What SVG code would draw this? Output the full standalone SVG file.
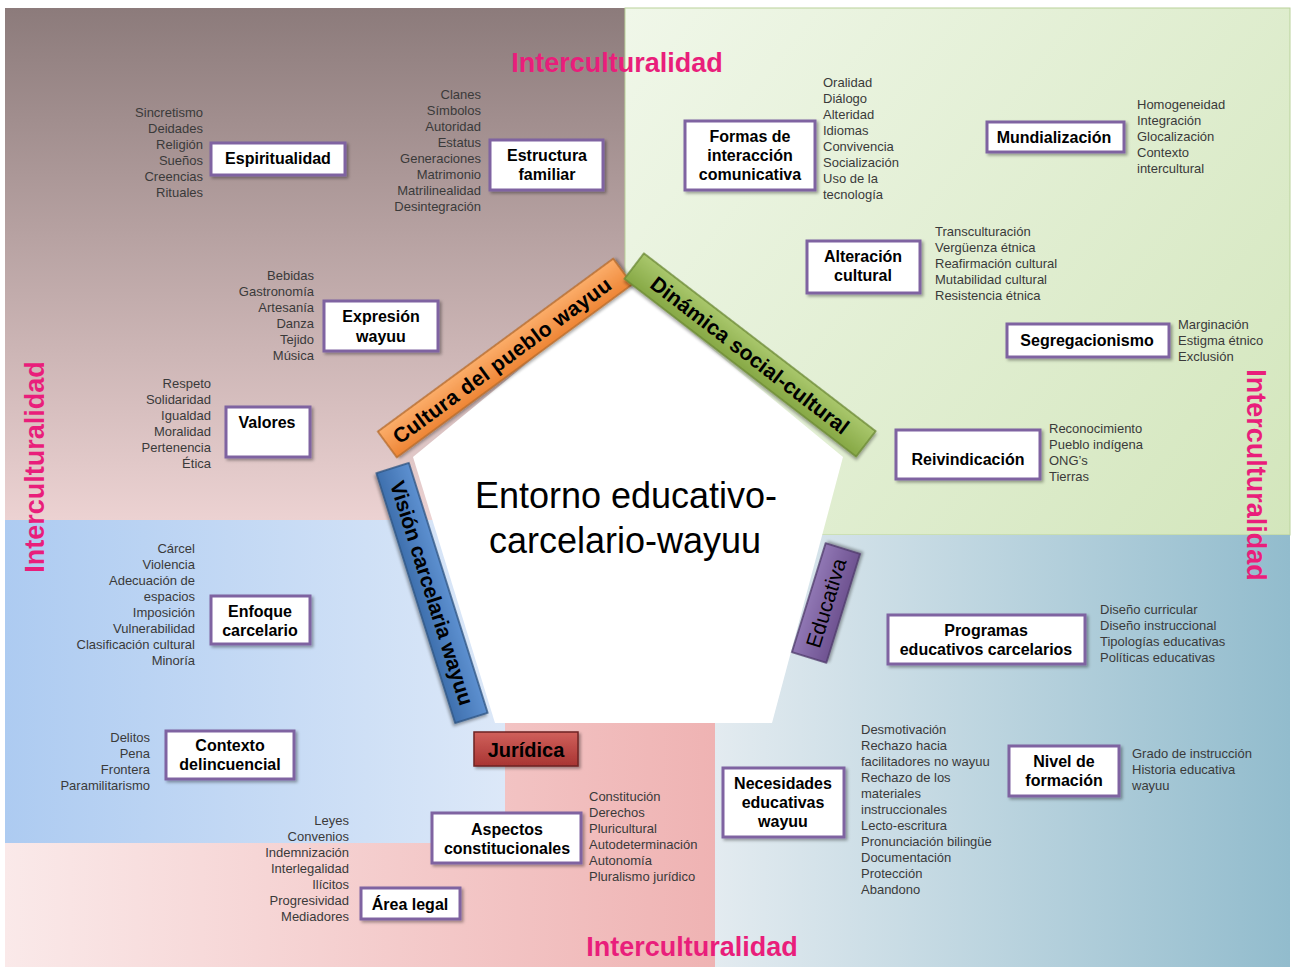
<svg xmlns="http://www.w3.org/2000/svg" width="1291" height="967" viewBox="0 0 1291 967">
<style>
.item{font-family:"Liberation Sans",Arial,sans-serif;font-size:13px;fill:#3a3a3a}
.r{text-anchor:end}
.box{fill:#ffffff;stroke:#7f63a1;stroke-width:3}
.lbl{font-family:"Liberation Sans",Arial,sans-serif;font-size:16px;font-weight:bold;fill:#000;text-anchor:middle}
.ic{font-family:"Liberation Sans",Arial,sans-serif;font-size:27px;font-weight:bold;fill:#e91e7b;text-anchor:middle}
.bar{font-family:"Liberation Sans",Arial,sans-serif;font-size:21px;font-weight:bold;fill:#000;text-anchor:middle}
.center{font-family:"Liberation Sans",Arial,sans-serif;font-size:36px;fill:#000;text-anchor:middle}
</style>
<defs>
<linearGradient id="gTL" x1="0" y1="8" x2="0" y2="520" gradientUnits="userSpaceOnUse"><stop offset="0" stop-color="#8c7b7b"/><stop offset="1" stop-color="#ecd2d2"/></linearGradient>
<linearGradient id="gTR" x1="625" y1="8" x2="1290" y2="535" gradientUnits="userSpaceOnUse"><stop offset="0" stop-color="#f0f7e9"/><stop offset="1" stop-color="#d3e6bc"/></linearGradient>
<linearGradient id="gBL" x1="5" y1="0" x2="505" y2="0" gradientUnits="userSpaceOnUse"><stop offset="0" stop-color="#adcbf1"/><stop offset="1" stop-color="#dce8f8"/></linearGradient>
<linearGradient id="gPK" x1="5" y1="0" x2="715" y2="0" gradientUnits="userSpaceOnUse"><stop offset="0" stop-color="#fae9e9"/><stop offset="1" stop-color="#efb3b3"/></linearGradient>
<linearGradient id="gBR" x1="715" y1="0" x2="1290" y2="0" gradientUnits="userSpaceOnUse"><stop offset="0" stop-color="#e3ebf0"/><stop offset="1" stop-color="#92bccd"/></linearGradient>
<linearGradient id="gOr" x1="0" y1="0" x2="0" y2="1"><stop offset="0" stop-color="#fbad6a"/><stop offset="1" stop-color="#ee8535"/></linearGradient>
<linearGradient id="gGr" x1="0" y1="0" x2="0" y2="1"><stop offset="0" stop-color="#a9c76c"/><stop offset="1" stop-color="#86a845"/></linearGradient>
<linearGradient id="gBl" x1="0" y1="0" x2="0" y2="1"><stop offset="0" stop-color="#5d90d0"/><stop offset="1" stop-color="#3f70ae"/></linearGradient>
<linearGradient id="gPu" x1="0" y1="0" x2="0" y2="1"><stop offset="0" stop-color="#9077b4"/><stop offset="1" stop-color="#6f5391"/></linearGradient>
<linearGradient id="gRd" x1="0" y1="0" x2="0" y2="1"><stop offset="0" stop-color="#d0605c"/><stop offset="1" stop-color="#a83532"/></linearGradient>
<filter id="sh" x="-20%" y="-20%" width="140%" height="160%"><feDropShadow dx="2" dy="2" stdDeviation="1.8" flood-color="#000" flood-opacity="0.35"/></filter>
</defs>

<g id="background">
<rect x="0" y="0" width="1291" height="967" fill="#ffffff"/>
<rect x="5" y="8" width="620" height="512" fill="url(#gTL)"/>
<rect x="625" y="8" width="665" height="527" fill="url(#gTR)" stroke="#b9d29a" stroke-width="1"/>
<rect x="5" y="520" width="620" height="323" fill="url(#gBL)"/>
<path d="M5 843 H505 V722 H715 V967 H5 Z" fill="url(#gPK)"/>
<rect x="715" y="535" width="575" height="432" fill="url(#gBR)"/>
<polygon id="pentagon" points="628,280 413,457 495,723 772,723 843,457" fill="#ffffff"/>
</g>

<g id="interculturalidad">
<text class="ic" x="617" y="72">Interculturalidad</text>
<text class="ic" x="692" y="956">Interculturalidad</text>
<text class="ic" transform="translate(44,467) rotate(-90)">Interculturalidad</text>
<text class="ic" transform="translate(1247,475) rotate(90)">Interculturalidad</text>
</g>

<g id="centro">
<text class="center" x="626" y="508">Entorno educativo-</text>
<text class="center" x="625" y="553">carcelario-wayuu</text>
</g>

<g id="bar-cultura" transform="translate(505,358) rotate(-36.3)">
<rect x="-146" y="-16" width="292" height="32" fill="url(#gOr)" stroke="#b86c2b" stroke-width="1.5" filter="url(#sh)"/>
<text class="bar" x="-4" y="7.5" textLength="265">Cultura del pueblo wayuu</text>
</g>
<g id="bar-dinamica" transform="translate(750,355) rotate(37.5)">
<rect x="-146" y="-16" width="292" height="32" fill="url(#gGr)" stroke="#6c8a36" stroke-width="1.5" filter="url(#sh)"/>
<text class="bar" x="0" y="7.5" textLength="244">Dinámica social-cultural</text>
</g>
<g id="bar-vision" transform="translate(432,593) rotate(72.5)">
<rect x="-131" y="-17" width="262" height="34" fill="url(#gBl)" stroke="#2f5583" stroke-width="1.5" filter="url(#sh)"/>
<text class="bar" x="0" y="7.5" textLength="234">Visión carcelaria wayuu</text>
</g>
<g id="bar-educativa" transform="translate(826,603) rotate(-72.8)">
<rect x="-57" y="-18" width="114" height="36" fill="url(#gPu)" stroke="#4f3a6b" stroke-width="1.5" filter="url(#sh)"/>
<text class="bar" x="0" y="7.5" style="font-weight:normal">Educativa</text>
</g>
<g id="bar-juridica">
<rect x="474" y="732" width="104" height="34" fill="url(#gRd)" stroke="#6e2523" stroke-width="1.5" filter="url(#sh)"/>
<text class="bar" x="526" y="757" style="font-size:20px">Jurídica</text>
</g>

<g id="connectors"></g>

<g id="espiritualidad">
<rect class="box" x="211" y="143" width="134" height="32" filter="url(#sh)"/>
<text class="lbl" x="278" y="164">Espiritualidad</text>
<g class="item r">
<text x="203" y="117">Sincretismo</text><text x="203" y="133">Deidades</text><text x="203" y="149">Religión</text><text x="203" y="165">Sueños</text><text x="203" y="181">Creencias</text><text x="203" y="197">Rituales</text>
</g>
</g>

<g id="estructura-familiar">
<rect class="box" x="490" y="140" width="113" height="50" filter="url(#sh)"/>
<text class="lbl" x="547" y="161">Estructura</text>
<text class="lbl" x="547" y="180">familiar</text>
<g class="item r">
<text x="481" y="99">Clanes</text><text x="481" y="115">Símbolos</text><text x="481" y="131">Autoridad</text><text x="481" y="147">Estatus</text><text x="481" y="163">Generaciones</text><text x="481" y="179">Matrimonio</text><text x="481" y="195">Matrilinealidad</text><text x="481" y="211">Desintegración</text>
</g>
</g>

<g id="formas-interaccion">
<rect class="box" x="685" y="121" width="130" height="69" filter="url(#sh)"/>
<text class="lbl" x="750" y="142">Formas de</text>
<text class="lbl" x="750" y="161">interacción</text>
<text class="lbl" x="750" y="180">comunicativa</text>
<g class="item">
<text x="823" y="87">Oralidad</text><text x="823" y="103">Diálogo</text><text x="823" y="119">Alteridad</text><text x="823" y="135">Idiomas</text><text x="823" y="151">Convivencia</text><text x="823" y="167">Socialización</text><text x="823" y="183">Uso de la</text><text x="823" y="199">tecnología</text>
</g>
</g>

<g id="mundializacion">
<rect class="box" x="987" y="122" width="137" height="30" filter="url(#sh)"/>
<text class="lbl" x="1054" y="143">Mundialización</text>
<g class="item">
<text x="1137" y="109">Homogeneidad</text><text x="1137" y="125">Integración</text><text x="1137" y="141">Glocalización</text><text x="1137" y="157">Contexto</text><text x="1137" y="173">intercultural</text>
</g>
</g>

<g id="alteracion-cultural">
<rect class="box" x="807" y="241" width="113" height="52" filter="url(#sh)"/>
<text class="lbl" x="863" y="262">Alteración</text>
<text class="lbl" x="863" y="281">cultural</text>
<g class="item">
<text x="935" y="236">Transculturación</text><text x="935" y="252">Vergüenza étnica</text><text x="935" y="268">Reafirmación cultural</text><text x="935" y="284">Mutabilidad cultural</text><text x="935" y="300">Resistencia étnica</text>
</g>
</g>

<g id="segregacionismo">
<rect class="box" x="1007" y="324" width="162" height="33" filter="url(#sh)"/>
<text class="lbl" x="1087" y="346">Segregacionismo</text>
<g class="item">
<text x="1178" y="329">Marginación</text><text x="1178" y="345">Estigma étnico</text><text x="1178" y="361">Exclusión</text>
</g>
</g>

<g id="reivindicacion">
<rect class="box" x="896" y="430" width="144" height="49" filter="url(#sh)"/>
<text class="lbl" x="968" y="465">Reivindicación</text>
<g class="item">
<text x="1049" y="433">Reconocimiento</text><text x="1049" y="449">Pueblo indígena</text><text x="1049" y="465">ONG’s</text><text x="1049" y="481">Tierras</text>
</g>
</g>

<g id="expresion-wayuu">
<rect class="box" x="324" y="301" width="114" height="50" filter="url(#sh)"/>
<text class="lbl" x="381" y="322">Expresión</text>
<text class="lbl" x="381" y="342">wayuu</text>
<g class="item r">
<text x="314" y="280">Bebidas</text><text x="314" y="296">Gastronomía</text><text x="314" y="312">Artesanía</text><text x="314" y="328">Danza</text><text x="314" y="344">Tejido</text><text x="314" y="360">Música</text>
</g>
</g>

<g id="valores">
<rect class="box" x="226" y="407" width="84" height="50" filter="url(#sh)"/>
<text class="lbl" x="267" y="428">Valores</text>
<g class="item r">
<text x="211" y="388">Respeto</text><text x="211" y="404">Solidaridad</text><text x="211" y="420">Igualdad</text><text x="211" y="436">Moralidad</text><text x="211" y="452">Pertenencia</text><text x="211" y="468">Ética</text>
</g>
</g>

<g id="enfoque-carcelario">
<rect class="box" x="211" y="596" width="99" height="48" filter="url(#sh)"/>
<text class="lbl" x="260" y="617">Enfoque</text>
<text class="lbl" x="260" y="636">carcelario</text>
<g class="item r">
<text x="195" y="553">Cárcel</text><text x="195" y="569">Violencia</text><text x="195" y="585">Adecuación de</text><text x="195" y="601">espacios</text><text x="195" y="617">Imposición</text><text x="195" y="633">Vulnerabilidad</text><text x="195" y="649">Clasificación cultural</text><text x="195" y="665">Minoría</text>
</g>
</g>

<g id="contexto-delincuencial">
<rect class="box" x="166" y="731" width="128" height="48" filter="url(#sh)"/>
<text class="lbl" x="230" y="751">Contexto</text>
<text class="lbl" x="230" y="770">delincuencial</text>
<g class="item r">
<text x="150" y="742">Delitos</text><text x="150" y="758">Pena</text><text x="150" y="774">Frontera</text><text x="150" y="790">Paramilitarismo</text>
</g>
</g>

<g id="aspectos-constitucionales">
<rect class="box" x="432" y="813" width="149" height="50" filter="url(#sh)"/>
<text class="lbl" x="507" y="835">Aspectos</text>
<text class="lbl" x="507" y="854">constitucionales</text>
<g class="item">
<text x="589" y="801">Constitución</text><text x="589" y="817">Derechos</text><text x="589" y="833">Pluricultural</text><text x="589" y="849">Autodeterminación</text><text x="589" y="865">Autonomía</text><text x="589" y="881">Pluralismo jurídico</text>
</g>
</g>

<g id="area-legal">
<rect class="box" x="361" y="888" width="99" height="31" filter="url(#sh)"/>
<text class="lbl" x="410" y="910">Área legal</text>
<g class="item r">
<text x="349" y="825">Leyes</text><text x="349" y="841">Convenios</text><text x="349" y="857">Indemnización</text><text x="349" y="873">Interlegalidad</text><text x="349" y="889">Ilícitos</text><text x="349" y="905">Progresividad</text><text x="349" y="921">Mediadores</text>
</g>
</g>

<g id="programas-educativos">
<rect class="box" x="888" y="615" width="197" height="49" filter="url(#sh)"/>
<text class="lbl" x="986" y="636">Programas</text>
<text class="lbl" x="986" y="655">educativos carcelarios</text>
<g class="item">
<text x="1100" y="614">Diseño curricular</text><text x="1100" y="630">Diseño instruccional</text><text x="1100" y="646">Tipologías educativas</text><text x="1100" y="662">Políticas educativas</text>
</g>
</g>

<g id="necesidades-educativas">
<rect class="box" x="723" y="768" width="121" height="69" filter="url(#sh)"/>
<text class="lbl" x="783" y="789">Necesidades</text>
<text class="lbl" x="783" y="808">educativas</text>
<text class="lbl" x="783" y="827">wayuu</text>
<g class="item">
<text x="861" y="734">Desmotivación</text><text x="861" y="750">Rechazo hacia</text><text x="861" y="766">facilitadores no wayuu</text><text x="861" y="782">Rechazo de los</text><text x="861" y="798">materiales</text><text x="861" y="814">instruccionales</text><text x="861" y="830">Lecto-escritura</text><text x="861" y="846">Pronunciación bilingüe</text><text x="861" y="862">Documentación</text><text x="861" y="878">Protección</text><text x="861" y="894">Abandono</text>
</g>
</g>

<g id="nivel-formacion">
<rect class="box" x="1009" y="746" width="110" height="50" filter="url(#sh)"/>
<text class="lbl" x="1064" y="767">Nivel de</text>
<text class="lbl" x="1064" y="786">formación</text>
<g class="item">
<text x="1132" y="758">Grado de instrucción</text><text x="1132" y="774">Historia educativa</text><text x="1132" y="790">wayuu</text>
</g>
</g>
</svg>
